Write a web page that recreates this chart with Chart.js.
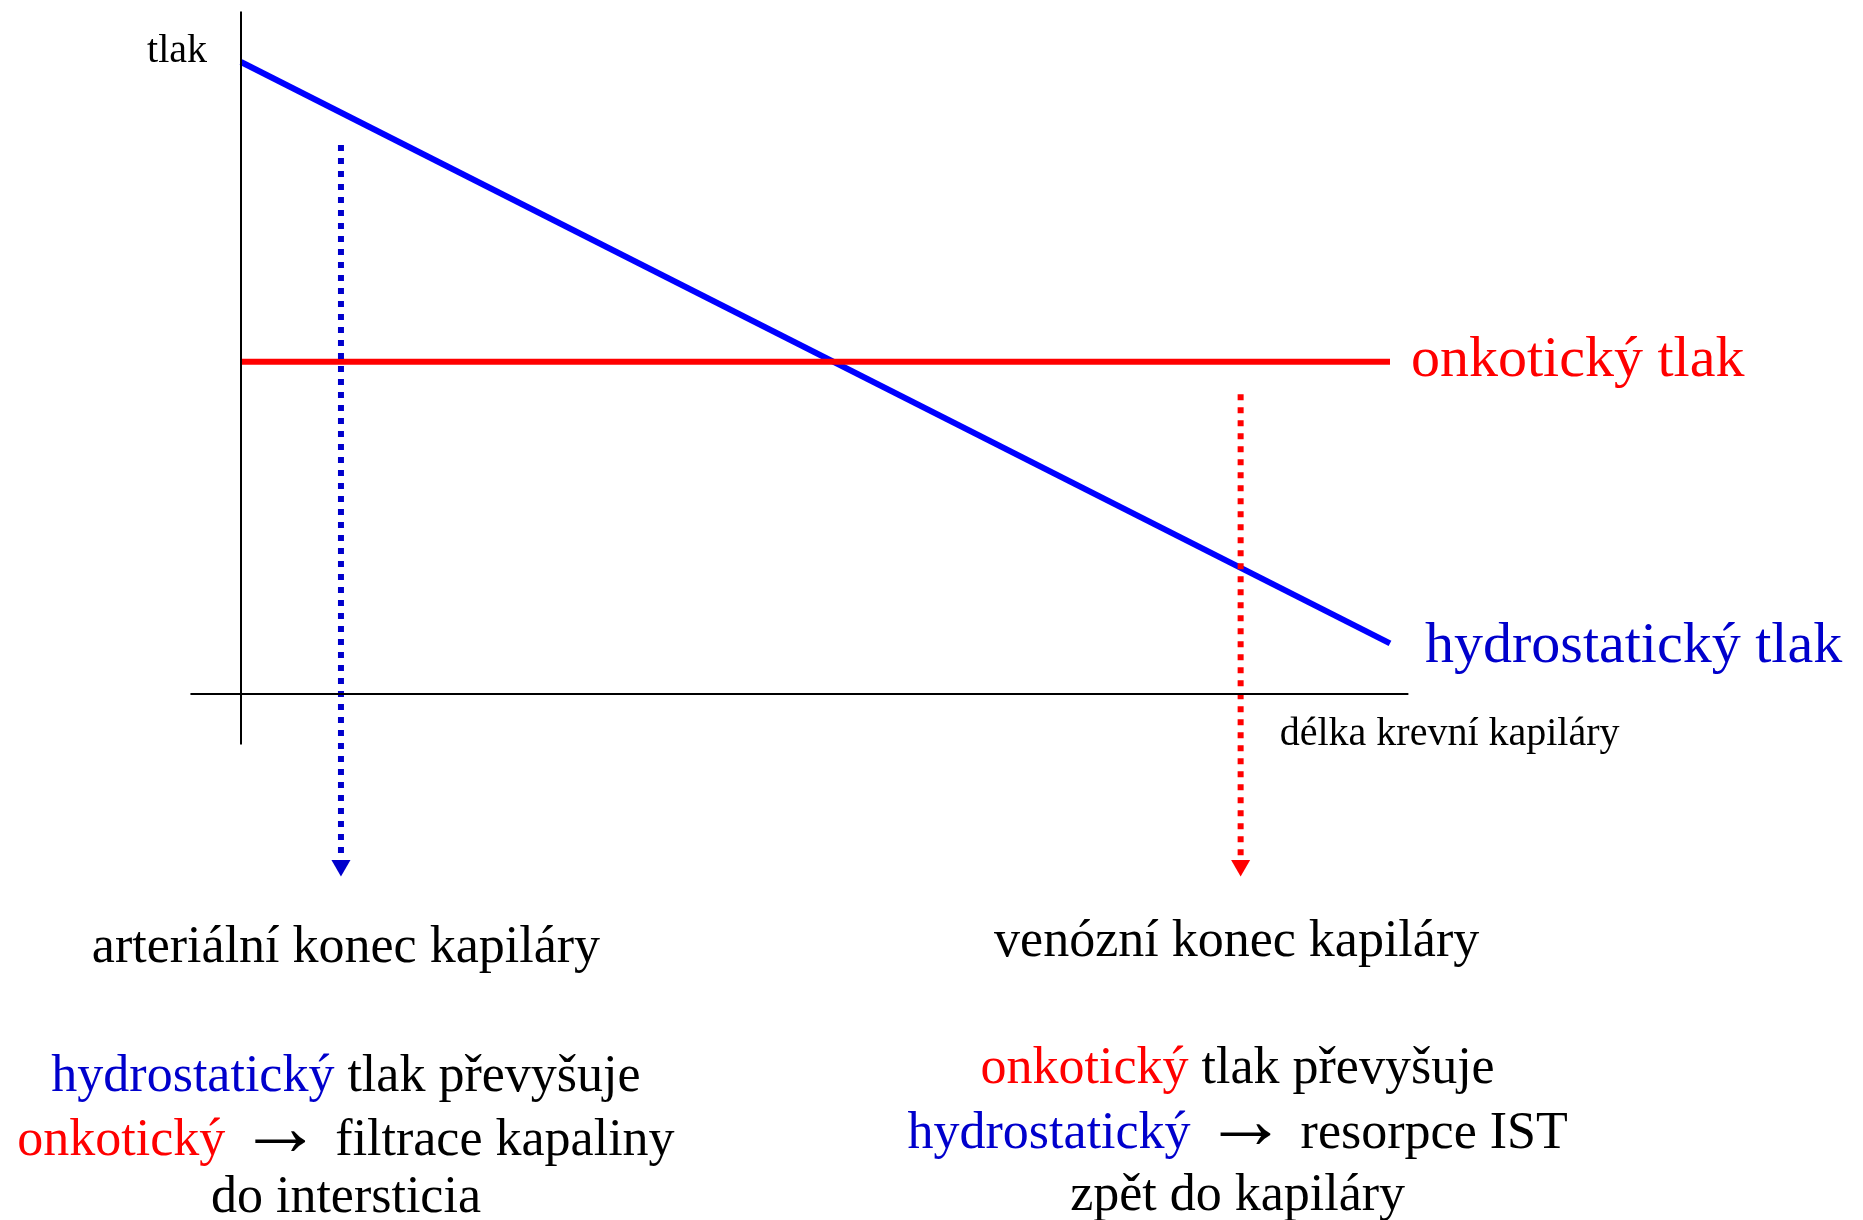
<!DOCTYPE html>
<html>
<head>
<meta charset="utf-8">
<script src="https://cdn.jsdelivr.net/npm/chart.js@4"></script>
<style>
  html, body { margin: 0; padding: 0; background: #ffffff; }
  #wrap { width: 1863px; height: 1220px; position: relative; }
</style>
</head>
<body>
<div id="wrap"><canvas id="c"></canvas></div>
<script>
// ---- data (capillary length in %, pressure in arbitrary units) ----
const capillaryLength = [0, 100];
const hydrostaticPressure = [35, 2.8];
const oncoticPressure = [18.4, 18.4];

// axis lines (drawn as data lines so they can cross each other)
const yAxisRange = [-2.8, 37.8];
const xAxisRange = [-4.4, 101.6];

// dotted arrows marking the two capillary ends
const arterialEndX = 8.7;
const venousEndX = 87.0;
const arterialArrowY = [30.4, -9.5];
const venousArrowY = [16.6, -9.5];

// scale window
const xRange = [0, 100];
const yRange = [-12, 38];

// texts
const seriesLabels = ['hydrostatický tlak', 'onkotický tlak'];
const axisTitles = ['tlak', 'délka krevní kapiláry'];
const endTitles = ['arteriální konec kapiláry', 'venózní konec kapiláry'];
const BLUE_TXT = '#0000CC', RED_TXT = '#FF0000', BLK = '#000000';
const ARROW = '\u2192';
const arterialText = [
  [['hydrostatický', BLUE_TXT], [' tlak převyšuje', BLK]],
  [['onkotický', RED_TXT], [' ', BLK], [ARROW, BLK, 'arrow'], [' filtrace kapaliny', BLK]],
  [['do intersticia', BLK]]
];
const venousText = [
  [['onkotický', RED_TXT], [' tlak převyšuje', BLK]],
  [['hydrostatický', BLUE_TXT], [' ', BLK], [ARROW, BLK, 'arrow'], [' resorpce IST', BLK]],
  [['zpět do kapiláry', BLK]]
];

const pts = (xs, ys) => xs.map((x, i) => ({ x: x, y: ys[i] }));
const FONT = '"Liberation Serif", "Times New Roman", serif';

const textPlugin = {
  id: 'texts',
  afterDraw(chart) {
    const ctx = chart.ctx;
    const xs = chart.scales.x, ys = chart.scales.y;
    const X = v => xs.getPixelForValue(v), Y = v => ys.getPixelForValue(v);
    ctx.save();
    ctx.textBaseline = 'alphabetic';

    // axis titles
    ctx.font = '40px ' + FONT;
    ctx.fillStyle = BLK;
    ctx.textAlign = 'right';
    ctx.fillText(axisTitles[0], X(0) - 34, Y(35));
    ctx.textAlign = 'left';
    ctx.fillText(axisTitles[1], X(90.4), Y(0) + 51);

    // series labels at line ends
    ctx.font = '58px ' + FONT;
    ctx.fillStyle = RED_TXT;
    ctx.fillText(seriesLabels[1], X(capillaryLength[1]) + 21, Y(oncoticPressure[1]) + 14);
    ctx.fillStyle = BLUE_TXT;
    ctx.fillText(seriesLabels[0], X(capillaryLength[1]) + 35, Y(hydrostaticPressure[1]) + 19);

    // end titles
    ctx.font = '52px ' + FONT;
    ctx.fillStyle = BLK;
    ctx.textAlign = 'center';
    ctx.fillText(endTitles[0], X(arterialEndX) + 5, Y(0) + 268);
    ctx.fillText(endTitles[1], X(venousEndX) - 4, Y(0) + 262);

    // multi-coloured explanation blocks
    ctx.textAlign = 'left';
    const baseFont = '52px ' + FONT, arrowFont = '84px ' + FONT;
    const segWidth = g => { ctx.font = g[2] === 'arrow' ? arrowFont : baseFont; return ctx.measureText(g[0]).width; };
    const drawBlock = (lines, cx, baselines) => {
      lines.forEach((segs, i) => {
        const w = segs.reduce((s, g) => s + segWidth(g), 0);
        let x = cx - w / 2;
        segs.forEach(g => {
          const sw = segWidth(g);
          ctx.fillStyle = g[1];
          ctx.fillText(g[0], x, baselines[i]);
          x += sw;
        });
      });
    };
    const b = Y(0);
    drawBlock(arterialText, X(arterialEndX) + 5, [b + 397, b + 461, b + 518]);
    drawBlock(venousText, X(venousEndX) - 3, [b + 389, b + 454, b + 516]);
    ctx.restore();
  }
};

const dotted = {
  borderWidth: 6,
  borderDash: [6, 7],
  borderCapStyle: 'butt',
  pointStyle: 'triangle',
  rotation: 180,
  pointRadius: [0, 11],
  pointHoverRadius: [0, 11],
  pointBorderWidth: 0
};

// chart area: y=0 at pixel 694, 18.057 px per unit; x=0 at 241, x=100 at 1390
const PX_PER_Y = 18.057;
const padTop = 694 - yRange[1] * PX_PER_Y;
const padBottom = 1220 - (694 - yRange[0] * PX_PER_Y);

new Chart(document.getElementById('c'), {
  type: 'scatter',
  data: {
    datasets: [
      { label: 'y axis', data: pts([0, 0], yAxisRange), showLine: true, borderColor: BLK, borderWidth: 2, pointRadius: 0, clip: false },
      { label: 'x axis', data: pts(xAxisRange, [0, 0]), showLine: true, borderColor: BLK, borderWidth: 2, pointRadius: 0, clip: false },
      Object.assign({ label: 'arterial', data: pts([arterialEndX, arterialEndX], arterialArrowY), showLine: true,
        borderColor: '#0000CC', backgroundColor: '#0000CC', pointBackgroundColor: '#0000CC', clip: false }, dotted),
      Object.assign({ label: 'venous', data: pts([venousEndX, venousEndX], venousArrowY), showLine: true,
        borderColor: '#FF0000', backgroundColor: '#FF0000', pointBackgroundColor: '#FF0000', clip: false }, dotted),
      { label: seriesLabels[1], data: pts(capillaryLength, oncoticPressure), showLine: true, borderColor: '#FF0000', borderWidth: 6, borderCapStyle: 'butt', pointRadius: 0, clip: false },
      { label: seriesLabels[0], data: pts(capillaryLength, hydrostaticPressure), showLine: true, borderColor: '#0000FF', borderWidth: 6, borderCapStyle: 'butt', pointRadius: 0, clip: false }
    ]
  },
  options: {
    responsive: true,
    maintainAspectRatio: false,
    animation: false,
    layout: { autoPadding: false, padding: { left: 241, right: 473, top: padTop, bottom: padBottom } },
    scales: {
      x: { type: 'linear', min: xRange[0], max: xRange[1], display: false },
      y: { type: 'linear', min: yRange[0], max: yRange[1], display: false }
    },
    plugins: { legend: { display: false }, tooltip: { enabled: false } }
  },
  plugins: [textPlugin]
});
</script>
</body>
</html>
